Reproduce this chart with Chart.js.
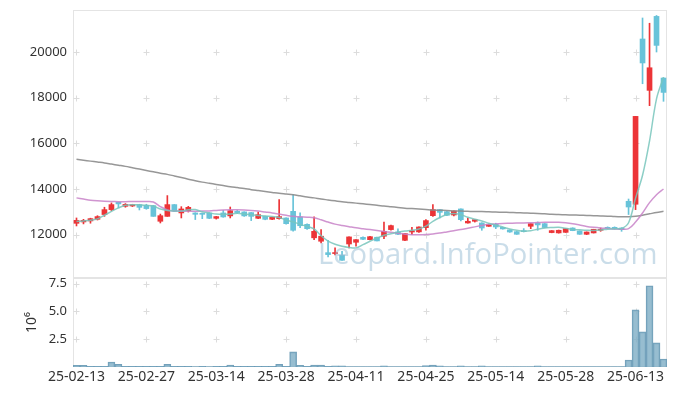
<!DOCTYPE html>
<html>
<head>
<meta charset="utf-8">
<script src="https://cdn.jsdelivr.net/npm/chart.js@4"></script>
<style>
  body { margin: 0; background: #fff; }
  #wrap { position: relative; width: 677px; height: 396px; }
  canvas { position: absolute; left: 0; }
  #priceChart { top: 0; }
  #volChart { top: 278px; }
</style>
</head>
<body>
<div id="wrap">
  <canvas id="priceChart" width="677" height="278"></canvas>
  <canvas id="volChart" width="677" height="118"></canvas>
</div>
<script>
const dates = [
  '25-02-13','25-02-14','25-02-17','25-02-18','25-02-19','25-02-20','25-02-21','25-02-24','25-02-25','25-02-26','25-02-27','25-02-28',
  '25-03-04','25-03-05','25-03-06','25-03-07','25-03-10','25-03-11','25-03-12','25-03-13','25-03-14','25-03-17','25-03-18','25-03-19',
  '25-03-20','25-03-21','25-03-24','25-03-25','25-03-26','25-03-27','25-03-28','25-03-31',
  '25-04-01','25-04-02','25-04-03','25-04-04','25-04-07','25-04-08','25-04-09','25-04-10','25-04-11','25-04-14','25-04-15','25-04-16',
  '25-04-17','25-04-18','25-04-21','25-04-22','25-04-23','25-04-24','25-04-25','25-04-28','25-04-29','25-04-30',
  '25-05-02','25-05-07','25-05-08','25-05-09','25-05-12','25-05-13','25-05-14','25-05-15','25-05-16','25-05-19','25-05-20','25-05-21',
  '25-05-22','25-05-23','25-05-26','25-05-27','25-05-28','25-05-29','25-05-30',
  '25-06-02','25-06-04','25-06-05','25-06-09','25-06-10','25-06-11','25-06-12','25-06-13','25-06-16','25-06-17','25-06-18','25-06-19'
];

const opens = [12495,12555,12600,12670,12880,13095,13415,13240,13255,13315,13285,13270,12585,12800,13315,12950,13050,12950,12935,12950,
  12715,12950,12820,13020,12995,12965,12715,12800,12670,12700,12730,13020,12770,12450,11860,11710,11210,11170,11095,11590,
  11665,11880,11780,11885,11930,12220,12120,11750,12115,12120,12305,12830,13095,13005,12860,13125,12510,12585,12510,12365,
  12455,12320,12205,12130,12175,12365,12510,12480,12090,12075,12100,12290,12160,12015,12075,12190,12320,12320,12290,13460,
  13330,20570,18320,21560,18860];
const highs = [12730,12670,12720,12830,13200,13390,13420,13360,13330,13330,13330,13280,12900,13710,13320,13225,13240,12960,12950,12960,
  12800,13065,13210,13060,13000,12970,12990,12810,12770,13530,12740,13750,12960,12470,12775,12220,11750,11420,11270,11900,
  11780,11900,11930,11890,12555,12420,12250,12050,12320,12340,12660,13315,13100,13020,13040,13130,12730,12660,12520,12460,
  12500,12330,12210,12140,12265,12480,12555,12490,12180,12200,12265,12300,12165,12120,12235,12290,12340,12340,12300,13560,
  17180,21490,21260,21600,18870];
const lows = [12380,12470,12500,12640,12800,13050,13170,13200,13230,13080,13110,12800,12510,12800,13020,12730,12990,12660,12700,12700,
  12680,12760,12730,12930,12800,12615,12700,12650,12650,12680,12460,12150,12300,12230,11780,11640,11020,11110,10870,11420,
  11490,11780,11770,11720,11825,12200,12000,11740,12000,12100,12190,12800,12730,12830,12820,12600,12500,12550,12190,12360,
  12260,12240,12100,12010,12115,12260,12190,12300,12080,12065,12095,12170,12010,12000,12070,12145,12270,12240,12145,12880,
  13095,18610,17650,20000,17840];
const closes = [12625,12625,12700,12790,13095,13315,13345,13325,13315,13195,13140,12800,12830,13315,13020,13125,13195,12890,12890,12715,
  12790,12775,13050,12965,12820,12800,12875,12670,12760,12790,12480,12190,12390,12260,12145,11930,11125,11200,10875,11900,
  11780,11795,11910,11725,12145,12395,12015,12045,12175,12335,12615,13095,12975,12845,13035,12655,12585,12655,12290,12440,
  12335,12250,12115,12015,12130,12480,12425,12310,12175,12190,12265,12175,12015,12115,12235,12235,12275,12250,12220,13210,
  17180,19520,19310,20290,18230];

// volume in millions of shares
const volumes = [0.15,0.15,0.05,0.05,0.05,0.45,0.25,0.05,0.05,0.05,0.05,0.05,0.05,0.25,0.05,0.05,0.05,0.03,0.05,0.03,
  0.05,0.05,0.18,0.05,0.05,0.05,0.05,0.05,0.05,0.25,0.05,1.36,0.15,0.05,0.17,0.17,0.05,0.1,0.1,0.03,
  0.03,0.03,0.03,0.03,0.1,0.03,0.03,0.03,0.03,0.03,0.12,0.18,0.1,0.03,0.03,0.1,0.03,0.03,0.1,0.03,
  0.03,0.03,0.03,0.03,0.03,0.03,0.1,0.03,0.03,0.03,0.03,0.03,0.03,0.03,0.03,0.03,0.03,0.03,0.03,0.63,
  5.15,3.16,7.3,2.17,0.72];

const ma5 = [12580,12600,12630,12690,12850,13020,13170,13290,13310,13300,13285,13250,13120,13060,13040,13030,13090,13100,13000,12950,
  12900,12890,12900,12940,12900,12870,12840,12820,12790,12750,12640,12560,12450,12360,12250,11950,11720,11580,11490,11440,
  11420,11560,11710,11850,11970,12040,12110,12160,12190,12250,12370,12580,12750,12880,12930,12870,12760,12670,12600,12500,
  12420,12330,12250,12190,12150,12170,12240,12290,12310,12320,12280,12230,12210,12190,12180,12200,12240,12260,12270,12520,
  13600,14600,16100,17950,18900];
const ma20 = [13610,13560,13510,13480,13460,13450,13445,13445,13450,13450,13450,13430,13230,13080,13040,13030,13020,13020,13030,13040,
  13060,13080,13090,13090,13080,13060,13030,12990,12950,12900,12850,12800,12780,12760,12740,12650,12550,12460,12400,12350,
  12300,12260,12220,12180,12140,12100,12060,12020,12000,12000,12010,12030,12070,12120,12170,12220,12280,12340,12400,12450,
  12470,12490,12500,12510,12510,12520,12530,12540,12540,12540,12520,12480,12420,12360,12320,12290,12270,12250,12240,12260,
  12550,12950,13400,13750,14000];
const ma120 = [15300,15260,15220,15180,15140,15090,15040,14990,14930,14870,14810,14750,14690,14640,14570,14500,14430,14360,14300,14250,
  14200,14150,14100,14060,14020,13970,13930,13890,13850,13810,13780,13750,13700,13650,13610,13560,13520,13480,13440,13410,
  13380,13350,13320,13290,13250,13220,13190,13160,13140,13120,13100,13080,13070,13060,13040,13030,13020,13010,13010,13000,
  12990,12980,12970,12960,12950,12940,12930,12910,12890,12880,12870,12860,12850,12840,12830,12820,12810,12790,12780,12780,
  12800,12850,12910,12970,13020];

const priceTicks = [12000, 14000, 16000, 18000, 20000];
const volTicks = [2.5, 5.0, 7.5];

const UP = '#ec3437';
const DOWN = '#68c3d9';
const candleColors = opens.map((o, i) => closes[i] >= o ? UP : DOWN);
const FONT = '"Noto Sans", "DejaVu Sans", sans-serif';

// light frame and small crosses where grid lines would meet
const frameCross = {
  id: 'frameCross',
  beforeDatasetsDraw(chart) {
    const {ctx, chartArea: a, scales} = chart;
    ctx.save();
    ctx.strokeStyle = '#e4e4e4';
    ctx.lineWidth = 1;
    ctx.strokeRect(Math.round(a.left) + 0.5, Math.round(a.top) + 0.5,
      Math.round(a.right - a.left) - 1, Math.round(a.bottom - a.top) - 1);
    ctx.strokeStyle = '#dcdcdc';
    const xs = [];
    for (let i = 0; i < dates.length; i += 10) xs.push(scales.x.getPixelForValue(i));
    const ys = scales.y.ticks.map(t => scales.y.getPixelForValue(t.value));
    ctx.beginPath();
    xs.forEach(px => ys.forEach(py => {
      const x = Math.round(px) + 0.5, y = Math.round(py) + 0.5;
      ctx.moveTo(x - 3, y); ctx.lineTo(x + 3, y);
      ctx.moveTo(x, y - 3); ctx.lineTo(x, y + 3);
    }));
    ctx.stroke();
    ctx.restore();
  }
};

const watermark = {
  id: 'watermark',
  afterDatasetsDraw(chart) {
    const ctx = chart.ctx;
    const text = 'Leopard.InfoPointer.com';
    ctx.save();
    ctx.font = '36px "Open Sans", sans-serif';
    const size = 36 * 340 / ctx.measureText(text).width;
    ctx.font = size.toFixed(1) + 'px "Open Sans", sans-serif';
    ctx.fillStyle = 'rgba(150, 188, 212, 0.5)';
    ctx.textBaseline = 'alphabetic';
    ctx.fillText(text, 318, 264);
    ctx.restore();
  }
};

function fixY(scale) {
  scale.width = 73;
  scale.paddingTop = 0;
  scale.paddingBottom = 0;
}

new Chart(document.getElementById('priceChart'), {
  type: 'bar',
  data: {
    labels: dates,
    datasets: [
      {
        type: 'line', data: ma5, borderColor: 'rgba(120,198,188,0.85)', borderWidth: 1.5,
        pointRadius: 0, tension: 0.35, order: 1
      },
      {
        type: 'line', data: ma20, borderColor: 'rgba(200,130,200,0.85)', borderWidth: 1.5,
        pointRadius: 0, tension: 0.35, order: 2
      },
      {
        type: 'line', data: ma120, borderColor: 'rgba(140,140,140,0.9)', borderWidth: 1.5,
        pointRadius: 0, tension: 0.35, order: 3
      },
      {
        data: opens.map((o, i) => [o, closes[i]]), backgroundColor: candleColors,
        barThickness: 5, minBarLength: 1, grouped: false, order: 4
      },
      {
        data: lows.map((l, i) => [l, highs[i]]), backgroundColor: candleColors,
        barThickness: 1, grouped: false, order: 5
      }
    ]
  },
  options: {
    responsive: false,
    animation: false,
    layout: {padding: {top: 10, right: 10, bottom: 0, left: 0}},
    plugins: {legend: {display: false}, tooltip: {enabled: false}},
    scales: {
      x: {display: false, offset: true},
      y: {
        min: 10100, max: 21840,
        afterBuildTicks: s => { s.ticks = priceTicks.map(v => ({value: v})); },
        afterFit: fixY,
        grid: {display: false, drawTicks: false},
        border: {display: false},
        ticks: {color: '#333', padding: 6, font: {family: FONT, size: 13}, callback: v => String(v)}
      }
    }
  },
  plugins: [frameCross, watermark]
});

new Chart(document.getElementById('volChart'), {
  type: 'bar',
  data: {
    labels: dates,
    datasets: [{
      data: volumes,
      backgroundColor: 'rgba(125,172,196,0.8)',
      borderColor: 'rgba(100,150,178,0.9)',
      borderWidth: 1,
      barPercentage: 1,
      categoryPercentage: 1
    }]
  },
  options: {
    responsive: false,
    animation: false,
    layout: {padding: {top: 0, right: 10, bottom: 0, left: 0}},
    plugins: {legend: {display: false}, tooltip: {enabled: false}},
    scales: {
      x: {
        afterFit: s => { s.height = 29; s.paddingLeft = 0; s.paddingRight = 0; },
        grid: {display: false, drawTicks: false},
        border: {display: false},
        ticks: {
          autoSkip: false, maxRotation: 0, padding: 2, color: '#333',
          font: {family: FONT, size: 14},
          callback: (v, i) => i % 10 === 0 ? dates[i] : ''
        }
      },
      y: {
        min: 0, max: 8,
        afterBuildTicks: s => { s.ticks = volTicks.map(v => ({value: v})); },
        afterFit: fixY,
        grid: {display: false, drawTicks: false},
        border: {display: false},
        title: {display: true, text: '10⁶', color: '#333', padding: {top: 24, bottom: 0},
          font: {family: FONT, size: 14}},
        ticks: {color: '#333', padding: 6, font: {family: FONT, size: 13},
          callback: v => v.toFixed(1)}
      }
    }
  },
  plugins: [frameCross]
});
</script>
</body>
</html>
